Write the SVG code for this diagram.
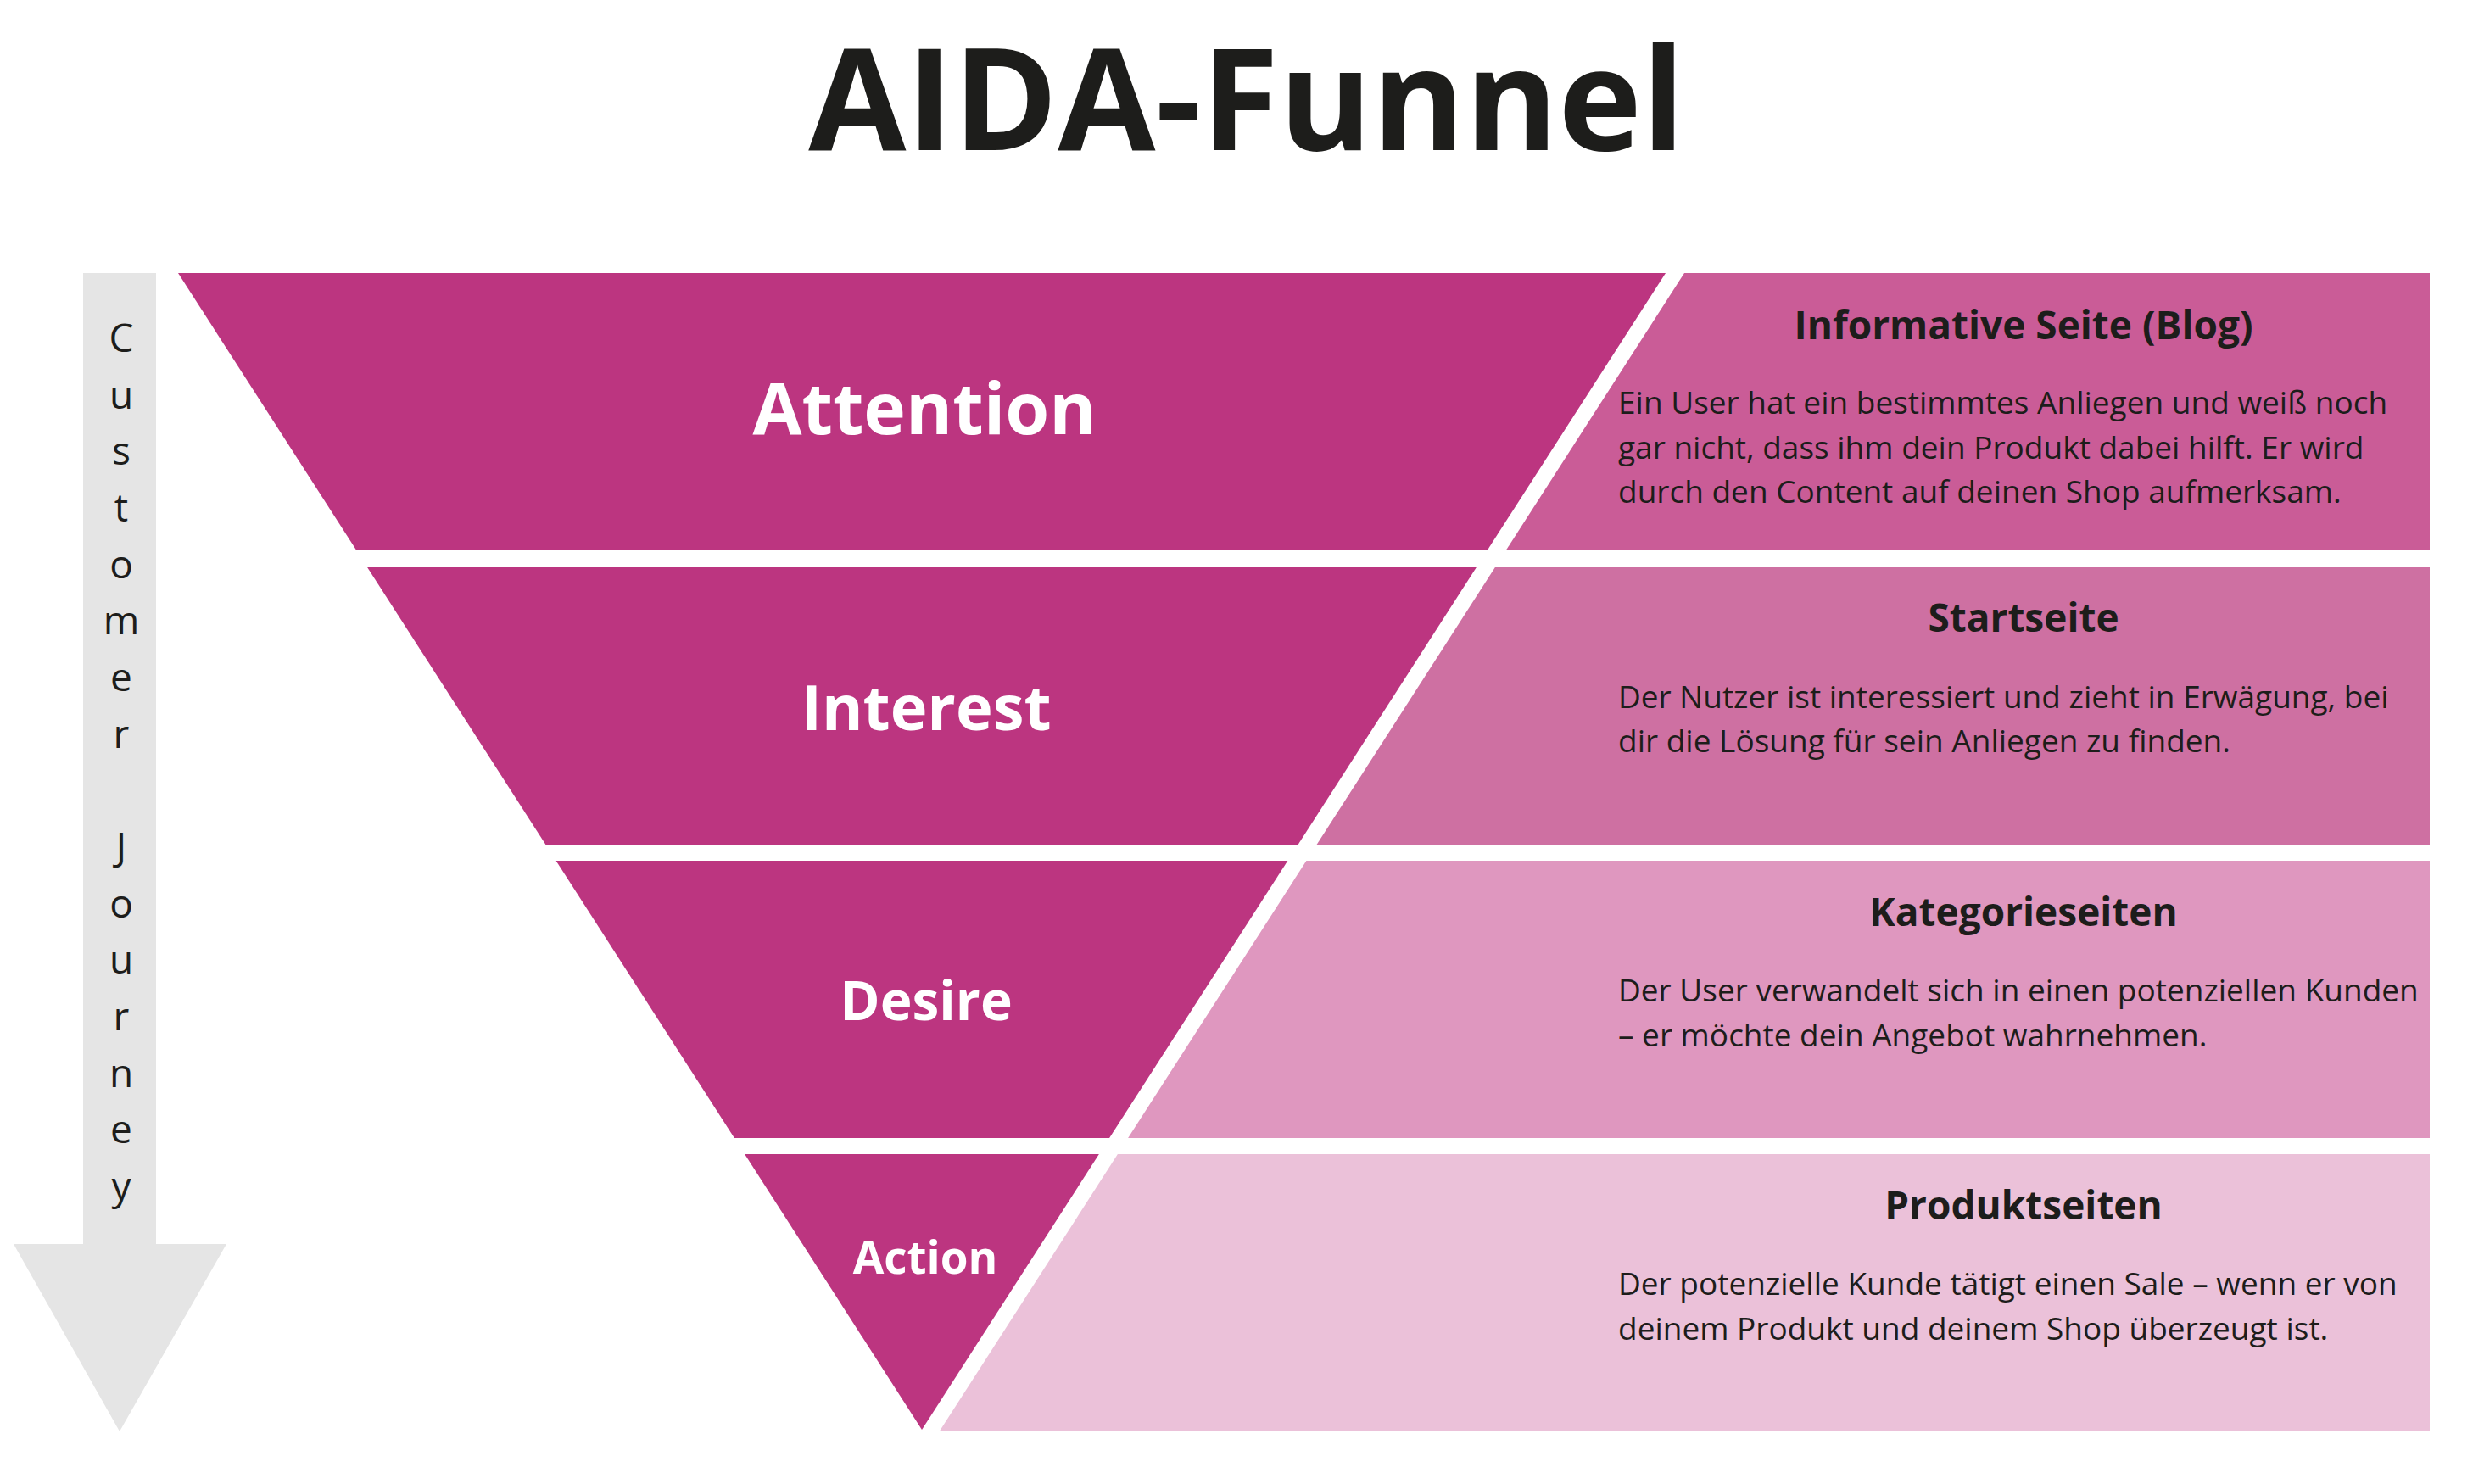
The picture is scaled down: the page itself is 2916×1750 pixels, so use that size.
<svg xmlns="http://www.w3.org/2000/svg" width="2916" height="1750" viewBox="0 0 2916 1750">
  <style>
    .funnel { fill: #BC3580; }
    .label { font-family: "Open Sans", "Liberation Sans", sans-serif; font-weight: 700; fill: #FFFFFF; text-anchor: middle; }
    .head { font-family: "Open Sans", "Liberation Sans", sans-serif; font-weight: 700; font-size: 46px; fill: #1D1D1B; text-anchor: middle; }
    .body { font-family: "Open Sans", "Liberation Sans", sans-serif; font-weight: 400; font-size: 37px; fill: #1D1D1B; }
    .title { font-family: "Open Sans", "Liberation Sans", sans-serif; font-weight: 700; font-size: 167px; fill: #1D1D1B; text-anchor: middle; }
    .journey { font-family: "Open Sans", "Liberation Sans", sans-serif; font-weight: 400; font-size: 46px; fill: #1D1D1B; text-anchor: middle; }
  </style>
  <rect width="2916" height="1750" fill="#FFFFFF"/>

  <text id="title" class="title" x="1470" y="177">AIDA-Funnel</text>

  <g id="journey-arrow">
    <rect x="98" y="322" width="86" height="1146" fill="#E5E5E5"/>
    <polygon points="16,1467 267,1467 141,1688" fill="#E5E5E5"/>
    <g class="journey">
      <text x="143" y="415">C</text>
      <text x="143" y="482">u</text>
      <text x="143" y="548">s</text>
      <text x="143" y="615">t</text>
      <text x="143" y="682">o</text>
      <text x="143" y="748">m</text>
      <text x="143" y="815">e</text>
      <text x="143" y="882">r</text>
      <text x="143" y="1015">J</text>
      <text x="143" y="1082">o</text>
      <text x="143" y="1148">u</text>
      <text x="143" y="1215">r</text>
      <text x="143" y="1282">n</text>
      <text x="143" y="1348">e</text>
      <text x="143" y="1415">y</text>
    </g>
  </g>

  <g id="attention">
    <polygon class="funnel" points="210,322 1964,322 1753.7,649 420.3,649"/>
    <text class="label" x="1090" y="512" font-size="84">Attention</text>
  </g>
  <g id="interest">
    <polygon class="funnel" points="433.1,669 1740.9,669 1530.6,996 643.4,996"/>
    <text class="label" x="1092" y="861" font-size="74">Interest</text>
  </g>
  <g id="desire">
    <polygon class="funnel" points="655.6,1015 1518.4,1015 1308.1,1342 865.9,1342"/>
    <text class="label" x="1092" y="1203" font-size="64">Desire</text>
  </g>
  <g id="action">
    <polygon class="funnel" points="878.1,1361 1295.9,1361 1087,1686"/>
    <text class="label" x="1091" y="1502" font-size="53">Action</text>
  </g>

  <g id="panel-blog">
    <polygon points="1986,322 2865,322 2865,649 1775.7,649" fill="#CA5C97"/>
    <text class="head" x="2386" y="400">Informative Seite (Blog)</text>
    <text class="body">
      <tspan x="1908" y="488">Ein User hat ein bestimmtes Anliegen und weiß noch</tspan>
      <tspan x="1908" y="541">gar nicht, dass ihm dein Produkt dabei hilft. Er wird</tspan>
      <tspan x="1908" y="593">durch den Content auf deinen Shop aufmerksam.</tspan>
    </text>
  </g>
  <g id="panel-startseite">
    <polygon points="1762.9,669 2865,669 2865,996 1552.6,996" fill="#CE70A2"/>
    <text class="head" x="2386" y="745">Startseite</text>
    <text class="body">
      <tspan x="1908" y="835">Der Nutzer ist interessiert und zieht in Erwägung, bei</tspan>
      <tspan x="1908" y="887">dir die Lösung für sein Anliegen zu finden.</tspan>
    </text>
  </g>
  <g id="panel-kategorie">
    <polygon points="1540.4,1015 2865,1015 2865,1342 1330.1,1342" fill="#DF97BF"/>
    <text class="head" x="2386" y="1092">Kategorieseiten</text>
    <text class="body">
      <tspan x="1908" y="1181">Der User verwandelt sich in einen potenziellen Kunden</tspan>
      <tspan x="1908" y="1234">– er möchte dein Angebot wahrnehmen.</tspan>
    </text>
  </g>
  <g id="panel-produkt">
    <polygon points="1317.9,1361 2865,1361 2865,1687 1108.3,1687" fill="#EBC1D9"/>
    <text class="head" x="2386" y="1438">Produktseiten</text>
    <text class="body">
      <tspan x="1908" y="1527">Der potenzielle Kunde tätigt einen Sale – wenn er von</tspan>
      <tspan x="1908" y="1580">deinem Produkt und deinem Shop überzeugt ist.</tspan>
    </text>
  </g>

  <g id="connectors"></g>
</svg>
